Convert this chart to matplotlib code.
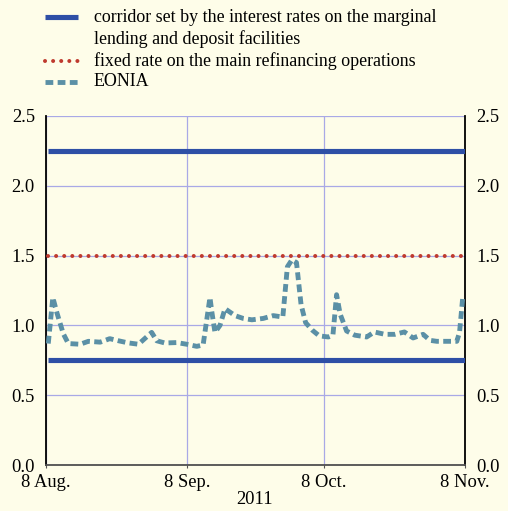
import matplotlib
matplotlib.use("Agg")
import matplotlib.pyplot as plt
from matplotlib.lines import Line2D

# ---- data (days since 8 Aug 2011) ----
tick_days = [0, 31, 61, 92]
tick_labels = ["8 Aug.", "8 Sep.", "8 Oct.", "8 Nov."]
year_label = "2011"

corridor_upper = 2.25
corridor_lower = 0.75
mro_rate = 1.50

eonia_days = [0.5, 1.5, 2.4, 3.8, 4.9, 7.5, 9.3, 11.9, 14, 15.9, 18, 20.3, 23.2, 24.3,
              26.1, 28.7, 30.9, 33.1, 34.5, 36, 36.4, 37.1, 38.2, 39.3, 41.5, 43.3,
              45.2, 47.7, 49.9, 52, 53, 54, 55, 56, 57, 58.5, 60, 62, 63, 63.8, 64.6,
              66, 67.8, 70.4, 72.1, 74.4, 76.6, 78.7, 80.6, 82.8, 84.3, 85.8, 87.6,
              90.2, 90.8, 91.5]
eonia_vals = [0.87, 1.20, 1.09, 0.94, 0.87, 0.865, 0.886, 0.88, 0.905, 0.89, 0.875,
              0.865, 0.95, 0.89, 0.874, 0.877, 0.865, 0.85, 0.86, 1.20, 1.10, 0.95,
              1.00, 1.12, 1.07, 1.05, 1.04, 1.05, 1.07, 1.06, 1.42, 1.47, 1.45, 1.15,
              1.02, 0.965, 0.925, 0.917, 0.93, 1.22, 1.08, 0.96, 0.93, 0.917, 0.953,
              0.936, 0.936, 0.953, 0.91, 0.936, 0.893, 0.886, 0.886, 0.886, 0.95, 1.20]

legend_line1 = "corridor set by the interest rates on the marginal"
legend_line2 = "lending and deposit facilities"
legend_mro = "fixed rate on the main refinancing operations"
legend_eonia = "EONIA"

# ---- style ----
BG = "#FEFDE9"
BLUE = "#2E4FA6"
RED = "#BF3A2E"
TEAL = "#5B90A6"
GRID = "#A9A9E6"
FS = 13.3
FS_LEG = 12.9
plt.rcParams["font.family"] = ["Liberation Serif", "DejaVu Serif"]

blue_style = dict(color=BLUE, lw=3.7, solid_capstyle="butt")
red_style = dict(color=RED, lw=2.9, linestyle=(0, (0.01, 2.0)), dash_capstyle="round")
teal_style = dict(color=TEAL, lw=3.5, linestyle=(0, (1.6, 0.9)), dash_capstyle="butt")

fig = plt.figure(figsize=(5.08, 5.11), dpi=100, facecolor=BG)
ax = fig.add_axes([46/508, 1-465/511, (465-46)/508, (465-116)/511])
ax.set_facecolor(BG)

x0, x1 = eonia_days[0], tick_days[-1]
ax.plot([x0, x1], [corridor_upper]*2, zorder=3, **blue_style)
ax.plot([x0, x1], [corridor_lower]*2, zorder=3, **blue_style)
ax.plot([x0, x1], [mro_rate]*2, zorder=3, **red_style)
ax.plot(eonia_days, eonia_vals, zorder=4, **teal_style)

ax.set_xlim(tick_days[0], tick_days[-1])
ax.set_ylim(0, 2.5)
ax.set_xticks(tick_days)
ax.set_xticklabels(tick_labels)
yt = [0.0, 0.5, 1.0, 1.5, 2.0, 2.5]
ax.set_yticks(yt)
ax.set_yticklabels([f"{v:.1f}" for v in yt])
ax.tick_params(axis="y", which="both", length=0, labelsize=FS, pad=8,
               labelleft=True, labelright=True, left=False, right=False)
ax.tick_params(axis="x", length=2.5, direction="out", labelsize=FS, pad=4, color="#555555")

ax.grid(True, color=GRID, lw=0.9, zorder=0)
ax.set_axisbelow(True)
for s in ["left", "right"]:
    ax.spines[s].set_color("black")
    ax.spines[s].set_linewidth(1.3)
ax.spines["bottom"].set_color("#505050")
ax.spines["bottom"].set_linewidth(1.3)
ax.spines["top"].set_visible(False)

fig.text(255/508, 1-500/511, year_label, ha="center", va="center", fontsize=FS)

# ---- manual legend ----
hx0, hx1, tx = 45/508, 78/508, 94/508
for r, st in zip([17, 61, 82], [blue_style, red_style, teal_style]):
    y = 1 - r/511
    fig.add_artist(Line2D([hx0, hx1], [y, y], transform=fig.transFigure, **st))
for r, lab in zip([17, 39, 61, 82], [legend_line1, legend_line2, legend_mro, legend_eonia]):
    fig.text(tx, 1 - r/511, lab, ha="left", va="center", fontsize=FS_LEG)

fig.savefig("out.png", dpi=100, facecolor=BG)
